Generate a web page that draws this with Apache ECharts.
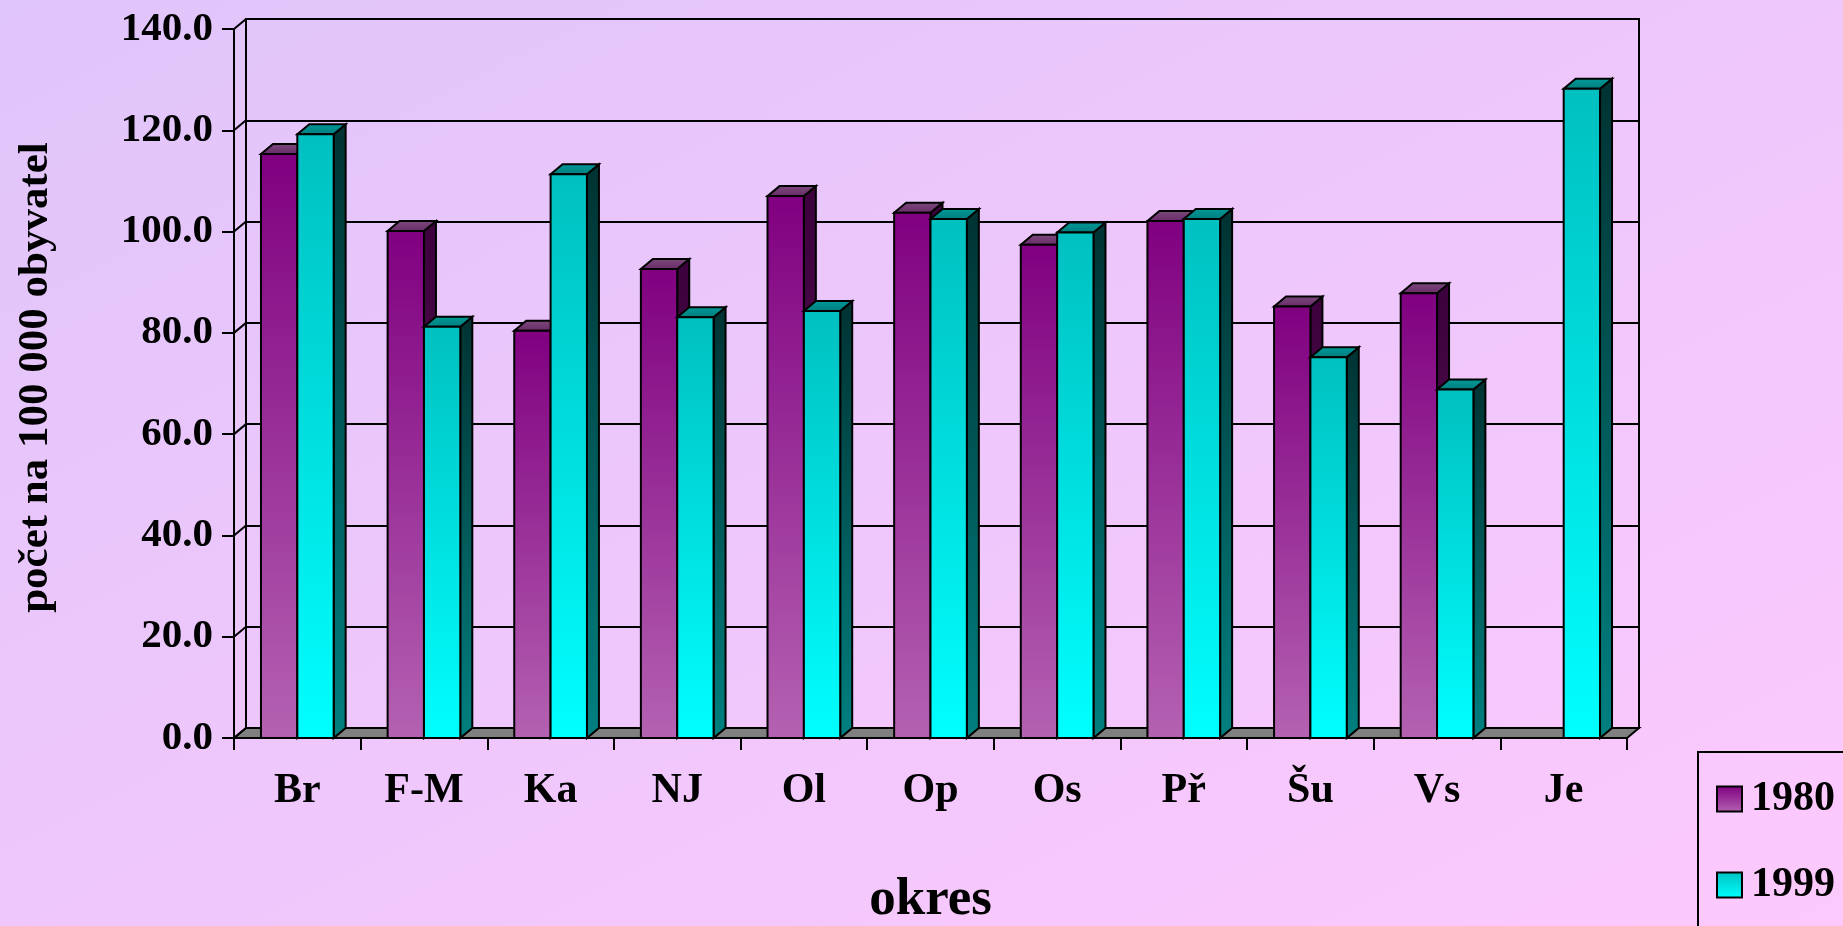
<!DOCTYPE html>
<html>
<head>
<meta charset="utf-8">
<script src="https://cdn.jsdelivr.net/npm/echarts@6/dist/echarts.min.js"></script>
<style>
html, body { margin: 0; padding: 0; }
#chart {
    width: 1843px;
    height: 926px;
    background: linear-gradient(to bottom right, #e0c5fa, #fdc9fd);
}
</style>
</head>
<body>
<div id="chart"></div>
<script>
// okresy a hodnoty (počet na 100 000 obyvatel)
const categories = ['Br', 'F-M', 'Ka', 'NJ', 'Ol', 'Op', 'Os', 'Př', 'Šu', 'Vs', 'Je']
const v1980 = [115.3, 100.1, 80.4, 92.6, 107.0, 103.7, 97.4, 102.1, 85.2, 87.8, null]
const v1999 = [119.2, 81.2, 111.3, 83.1, 84.3, 102.5, 99.8, 102.5, 75.2, 68.8, 128.2]
const yTicks = [0, 20, 40, 60, 80, 100, 120, 140]

const FONT = '"Liberation Serif", "Times New Roman", serif'
const DX = 12, DY = 10   // hloubka 3D
const BAR = 0.287        // šířka sloupce / šířka kategorie

const grad = (a, b) => new echarts.graphic.LinearGradient(0, 0, 0, 1, [
    { offset: 0, color: a }, { offset: 1, color: b }
])

const styles = {
    '1980': {
        front: ['#800080', '#b462b2'],
        side: ['#3c003c', '#5e1e5e'],
        top: ['#7c4c7c', '#682868']
    },
    '1999': {
        front: ['#00c0c0', '#00ffff'],
        side: ['#003232', '#008080'],
        top: ['#009a9a', '#007c7c']
    }
}

const stroke = { stroke: '#000', lineWidth: 2 }

// sloupec: přední stěna + bok + vršek
const barRenderer = (name, offset) => (params, api) => {
    const i = api.value(0)
    const v = api.value(1)
    const w = api.size([1, 0])[0]
    const bw = w * BAR
    const c = api.coord([i, v])
    const base = api.coord([i, 0])
    const x0 = c[0] + offset * bw
    const x1 = x0 + bw
    const yt = c[1], yb = base[1]
    const s = styles[name]
    return {
        type: 'group',
        children: [
            {
                type: 'polygon',
                shape: { points: [[x1, yt], [x1 + DX, yt - DY], [x1 + DX, yb - DY], [x1, yb]] },
                style: Object.assign({ fill: grad(s.side[0], s.side[1]) }, stroke)
            },
            {
                type: 'polygon',
                shape: { points: [[x0, yt], [x1, yt], [x1 + DX, yt - DY], [x0 + DX, yt - DY]] },
                style: Object.assign({ fill: grad(s.top[0], s.top[1]) }, stroke)
            },
            {
                type: 'rect',
                shape: { x: x0, y: yt, width: bw, height: yb - yt },
                style: Object.assign({ fill: grad(s.front[0], s.front[1]) }, stroke)
            }
        ]
    }
}

const toData = arr => arr.map((v, i) => [i, v]).filter(d => d[1] !== null)

const chart = echarts.init(document.getElementById('chart'), null, { renderer: 'canvas' })

const option = {
    backgroundColor: 'transparent',
    animation: false,
    textStyle: { fontFamily: FONT },
    grid: [
        { left: 234, top: 29, width: 1393, height: 709, outerBoundsMode: 'none', containLabel: false },
        {
            left: 246, top: 19, width: 1393, height: 709, outerBoundsMode: 'none', containLabel: false,
            show: true, borderColor: '#000', borderWidth: 2, backgroundColor: 'transparent'
        }
    ],
    legend: {
        left: 1698,
        top: 752,
        height: 300,
        orient: 'vertical',
        selectedMode: false,
        padding: [26, 30, 40, 18],
        itemGap: 44,
        itemWidth: 25,
        itemHeight: 25,
        borderColor: '#000',
        borderWidth: 2,
        textStyle: { fontFamily: FONT, fontSize: 42, fontWeight: 'bold', color: '#000', padding: [0, 0, 0, 4] },
        data: [
            { name: '1980', icon: 'rect', itemStyle: { color: grad('#800080', '#b462b2'), borderColor: '#000', borderWidth: 2 } },
            { name: '1999', icon: 'rect', itemStyle: { color: grad('#00c0c0', '#00ffff'), borderColor: '#000', borderWidth: 2 } }
        ]
    },
    xAxis: [
        {
            type: 'category',
            gridIndex: 0,
            data: categories,
            name: 'okres',
            nameLocation: 'middle',
            nameGap: 136,
            nameTextStyle: { fontFamily: FONT, fontSize: 53, fontWeight: 'bold', color: '#000' },
            axisLine: { lineStyle: { color: '#000', width: 2 } },
            axisTick: { show: true, length: 12, interval: 0, lineStyle: { color: '#000', width: 2 } },
            axisLabel: { interval: 0, margin: 32, fontFamily: FONT, fontSize: 42, fontWeight: 'bold', color: '#000' },
            splitLine: { show: false }
        },
        {
            type: 'category',
            gridIndex: 1,
            data: categories,
            show: false
        }
    ],
    yAxis: [
        {
            type: 'value',
            gridIndex: 0,
            min: 0,
            max: 140,
            interval: 20,
            name: 'počet na 100 000 obyvatel',
            nameLocation: 'middle',
            nameGap: 177,
            nameTextStyle: { fontFamily: FONT, fontSize: 43, fontWeight: 'bold', color: '#000', padding: [0, 0, 0, 12] },
            axisLine: { show: true, lineStyle: { color: '#000', width: 2 } },
            axisTick: { show: true, length: 12, lineStyle: { color: '#000', width: 2 } },
            axisLabel: {
                margin: 21, fontFamily: FONT, fontSize: 41, fontWeight: 'bold', color: '#000',
                formatter: v => v.toFixed(1)
            },
            splitLine: { show: false }
        },
        {
            type: 'value',
            gridIndex: 1,
            min: 0,
            max: 140,
            interval: 20,
            axisLine: { show: false },
            axisTick: { show: false },
            axisLabel: { show: false },
            splitLine: { show: true, lineStyle: { color: '#000', width: 2 } }
        }
    ],
    series: [
        {
            // podlaha
            type: 'custom',
            name: 'floor',
            xAxisIndex: 0,
            yAxisIndex: 0,
            silent: true,
            z: 2,
            data: [[0, 0]],
            renderItem: (params, api) => {
                const w = api.size([1, 0])[0]
                const l = api.coord([0, 0])
                const r = api.coord([categories.length - 1, 0])
                const xl = l[0] - w / 2, xr = r[0] + w / 2, y = l[1]
                return {
                    type: 'polygon',
                    shape: { points: [[xl, y], [xr, y], [xr + DX, y - DY], [xl + DX, y - DY]] },
                    style: Object.assign({ fill: '#808080' }, stroke)
                }
            }
        },
        {
            // boční stěna – šikmé spojnice
            type: 'custom',
            name: 'wall',
            xAxisIndex: 0,
            yAxisIndex: 0,
            silent: true,
            z: 2,
            data: yTicks.map(t => [0, t]),
            renderItem: (params, api) => {
                const w = api.size([1, 0])[0]
                const p = api.coord([0, api.value(1)])
                const x = p[0] - w / 2
                return {
                    type: 'line',
                    shape: { x1: x, y1: p[1], x2: x + DX, y2: p[1] - DY },
                    style: stroke
                }
            }
        },
        {
            type: 'custom',
            name: '1980',
            xAxisIndex: 0,
            yAxisIndex: 0,
            z: 3,
            itemStyle: { color: '#800080' },
            data: toData(v1980),
            renderItem: barRenderer('1980', -1)
        },
        {
            type: 'custom',
            name: '1999',
            xAxisIndex: 0,
            yAxisIndex: 0,
            z: 4,
            itemStyle: { color: '#00c0c0' },
            data: toData(v1999),
            renderItem: barRenderer('1999', 0)
        }
    ]
}

chart.setOption(option)
</script>
</body>
</html>
